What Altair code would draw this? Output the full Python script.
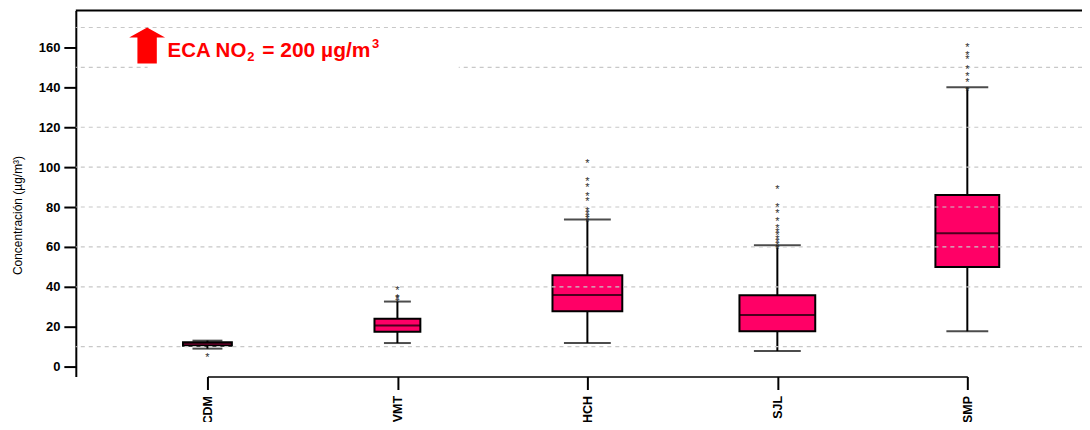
import altair as alt
import pandas as pd

# ---- data ----
categories = ["CDM", "VMT", "HCH", "SJL", "SMP"]
whisker_low = [9.0, 11.8, 11.8, 7.8, 17.7]
q1 = [10.5, 17.5, 27.7, 17.7, 49.9]
median = [11.5, 20.6, 35.9, 25.8, 66.9]
q3 = [12.2, 24.0, 45.8, 35.8, 86.0]
whisker_high = [13.0, 32.6, 73.8, 60.8, 140.0]

out_CDM = [6.0]
out_VMT = [39.3, 35.5, 34.8, 33.5]
out_HCH = [103.0, 94.0, 91.0, 86.3, 84.0, 79.0, 77.7, 76.0, 74.8, 73.5]
out_SJL = [90.2, 81.0, 78.0, 74.0, 70.5, 68.5, 66.8, 65.2, 63.5, 61.8, 59.8]
out_SMP = [161.0, 157.2, 155.2, 150.2, 146.8, 143.8, 139.3]

y_ticks = [0, 20, 40, 60, 80, 100, 120, 140, 160]
grid_lines = [10, 40, 60, 80, 100, 120, 150, 170]

# ---- styles ----
BOX_PX = [49, 46, 70, 76, 64]
CAP_PX = [30, 27, 47, 47, 42]
FONT = "Liberation Sans"
PINK = "#FF0066"
W, H = 1009, 367

rows = []
for i, c in enumerate(categories):
    rows.append({"kind": "box", "cat": c, "lo": whisker_low[i], "q1": q1[i],
                 "med": median[i], "q3": q3[i], "hi": whisker_high[i],
                 "bw": BOX_PX[i], "cw": CAP_PX[i]})
for c, vals in zip(categories, [out_CDM, out_VMT, out_HCH, out_SJL, out_SMP]):
    for v in vals:
        rows.append({"kind": "out", "cat": c, "v": v})
for g in grid_lines:
    rows.append({"kind": "grid", "g": g})
rows.append({"kind": "anno"})
df = pd.DataFrame(rows)

xscale = alt.Scale(type="point", domain=categories, range=[132, 894], padding=0)
yscale = alt.Scale(domain=[-5, 178.5], nice=False, zero=False)
xaxis = alt.Axis(title=None, orient="bottom", labelAngle=270, labelFont=FONT,
                 labelFontWeight="bold", labelFontSize=12.5, labelColor="black",
                 tickSize=13, tickWidth=2, tickColor="black", domainColor="black",
                 domainWidth=1.5, labelPadding=6, grid=False)
yaxis = alt.Axis(title="Concentración (µg/m³)", orient="left", values=y_ticks,
                 labelFont=FONT, labelFontWeight="bold", labelFontSize=13,
                 labelColor="black", tickSize=12, tickWidth=2, tickColor="black",
                 domainColor="black", domainWidth=2, labelPadding=4, grid=False,
                 titleFont=FONT, titleFontSize=12, titleFontWeight="normal",
                 titleColor="black", titleAngle=270, titleAlign="center",
                 titleBaseline="middle", titleX=-58, titleY=205)

X = alt.X("cat:N", scale=xscale, axis=xaxis)


def Y(f):
    return alt.Y(f, type="quantitative", scale=yscale, axis=yaxis)


def part(kind):
    return alt.Chart().transform_filter(f"datum.kind == '{kind}'")


whisk_lo = part("box").mark_rule(color="black", strokeWidth=2).encode(x=X, y=Y("lo"), y2="q1")
whisk_hi = part("box").mark_rule(color="black", strokeWidth=2).encode(x=X, y=Y("q3"), y2="hi")
cap_lo = part("box").mark_tick(color="black", thickness=2).encode(
    x=X, y=Y("lo"), size=alt.Size("cw:Q", scale=None, legend=None))
cap_hi = part("box").mark_tick(color="black", thickness=2).encode(
    x=X, y=Y("hi"), size=alt.Size("cw:Q", scale=None, legend=None))
box = part("box").mark_bar(fill=PINK, stroke="black", strokeWidth=2).encode(
    x=X, y=Y("q1"), y2="q3", size=alt.Size("bw:Q", scale=None, legend=None))
med = part("box").mark_tick(color="black", thickness=2).encode(
    x=X, y=Y("med"), size=alt.Size("bw:Q", scale=None, legend=None))

gridl = part("grid").mark_rule(color="#c8c8c8", strokeWidth=1.2,
                               strokeDash=[4, 4]).encode(y=Y("g"))
pts = part("out").mark_text(text="*", font=FONT, fontSize=11, color="#333333",
                            baseline="middle", dy=3).encode(x=X, y=Y("v"))

frame_top = part("anno").mark_rule(color="black", strokeWidth=2).encode(
    x=alt.value(0), x2=alt.value(W), y=alt.value(0))
white = part("anno").mark_rect(fill="white").encode(
    x=alt.value(72), x2=alt.value(384), y=alt.value(40), y2=alt.value(65))
arrow_path = "M -0.54 1 L 0.54 1 L 0.54 -0.44 L 1 -0.44 L 0 -1 L -1 -0.44 L -0.54 -0.44 Z"
arrow = part("anno").mark_point(shape=arrow_path, filled=True, color="#FF0000",
                                size=1296, opacity=1).encode(
    x=alt.value(71.5), y=alt.value(35))


def txt(s, x, y, size):
    return part("anno").mark_text(text=s, font=FONT, fontWeight="bold", fontSize=size,
                                  color="#FF0000", align="left",
                                  baseline="alphabetic").encode(
        x=alt.value(x), y=alt.value(y))


t1 = txt("ECA NO", 92, 47, 20.5)
t2 = txt("2", 172, 51, 13)
t3 = txt("= 200 µg/m", 187, 47, 21)
t4 = txt("3", 297, 38, 13)

chart = alt.layer(
    whisk_lo, whisk_hi, cap_lo, cap_hi, box, med, gridl, pts,
    frame_top, white, arrow, t1, t2, t3, t4, data=df,
).properties(
    width=W, height=H, background="white",
    autosize=alt.AutoSizeParams(type="none"),
    padding={"left": 68, "top": 2, "right": 0, "bottom": 45},
).configure_view(stroke=None)

chart.save("out.html", embed_options={"renderer": "svg", "actions": False})
